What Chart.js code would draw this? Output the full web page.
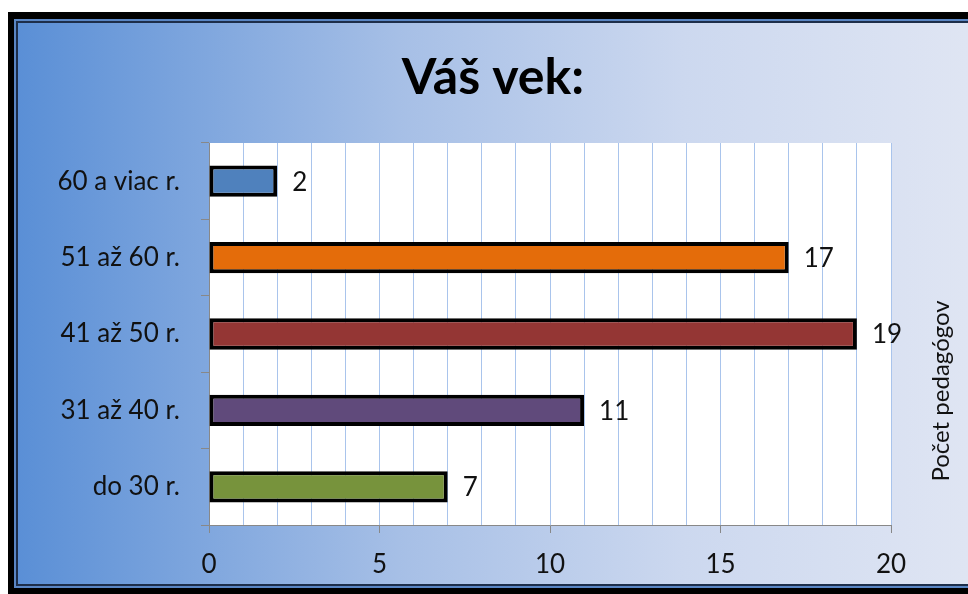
<!DOCTYPE html>
<html>
<head>
<meta charset="utf-8">
<script src="https://cdn.jsdelivr.net/npm/chart.js@4"></script>
<style>
    body { margin: 0; background: #fff; overflow: hidden; width: 968px; height: 594px; }
    .frame { position: absolute; left: 8px; top: 12px; width: 980px; height: 582px; background: #000; padding: 7px 6px 6px 6px; box-sizing: border-box; }
    .inner { border: 2px solid #5a86c4; }
    .inner2 { border: 2px solid #1d2e4a; width: 954px; height: 561px; }
    canvas { display: block; }
</style>
</head>
<body>
<div class="frame"><div class="inner"><div class="inner2">
    <canvas id="vekChart" width="950" height="561"></canvas>
</div></div></div>
<script>
const categories = ['60 a viac r.', '51 až 60 r.', '41 až 50 r.', '31 až 40 r.', 'do 30 r.'];
const counts = [2, 17, 19, 11, 7];
const barColors = ['#4f81bd', '#e46c0a', '#943634', '#604a7b', '#77933c'];
const xTicks = [0, 5, 10, 15, 20];

const fontFamily = 'Lato, "Open Sans", sans-serif';

// gradient background + white plot area
const backgroundPlugin = {
    id: 'bg',
    beforeDraw(chart) {
        const c = chart.ctx;
        const w = chart.width, h = chart.height;
        const g = c.createLinearGradient(0, 0, w, 0);
        g.addColorStop(0, '#5a8fd6');
        g.addColorStop(0.4, '#a6bfe6');
        g.addColorStop(0.7, '#ccd8ef');
        g.addColorStop(1, '#dfe5f3');
        c.save();
        c.fillStyle = g;
        c.fillRect(0, 0, w, h);
        const a = chart.chartArea;
        c.fillStyle = '#ffffff';
        c.fillRect(a.left, a.top, a.right - a.left, a.bottom - a.top);
        c.restore();
    }
};

// value labels next to the bars and the rotated axis title on the right
const labelPlugin = {
    id: 'labels',
    afterDatasetsDraw(chart) {
        const c = chart.ctx;
        c.save();
        c.font = '26px ' + fontFamily;
        c.fillStyle = '#111111';
        c.textAlign = 'left';
        c.textBaseline = 'middle';
        chart.getDatasetMeta(0).data.forEach(function (bar, i) {
            c.fillText(String(counts[i]), bar.x + 15, bar.y + 1);
        });
        c.font = '24px ' + fontFamily;
        c.translate(923, 368);
        c.rotate(-Math.PI / 2);
        c.textAlign = 'center';
        c.fillText('Počet pedagógov', 0, 0);
        c.restore();
    }
};

new Chart(document.getElementById('vekChart'), {
    type: 'bar',
    data: {
        labels: categories,
        datasets: [{
            data: counts,
            backgroundColor: barColors,
            borderColor: '#000000',
            borderWidth: 4,
            borderSkipped: false,
            categoryPercentage: 1,
            barPercentage: 0.41
        }]
    },
    options: {
        indexAxis: 'y',
        responsive: false,
        animation: false,
        layout: { padding: 0 },
        plugins: {
            legend: { display: false },
            tooltip: { enabled: false },
            title: {
                display: true,
                text: 'Váš vek:',
                color: '#000',
                font: { family: fontFamily, size: 50, weight: 'bold' },
                padding: { top: 25, bottom: 35 }
            }
        },
        scales: {
            x: {
                min: 0,
                max: 20,
                afterFit(scale) { scale.height = 59; },
                ticks: {
                    stepSize: 1,
                    autoSkip: false,
                    maxRotation: 0,
                    padding: 16,
                    color: '#111111',
                    font: { family: fontFamily, size: 26 },
                    callback: function (v) { return xTicks.includes(v) ? v : ''; }
                },
                grid: {
                    color: '#a9c4ec',
                    tickLength: 8,
                    tickColor: function (ctx) { return xTicks.includes(ctx.tick.value) ? '#888888' : 'rgba(0,0,0,0)'; }
                },
                border: { color: '#888888', width: 1 }
            },
            y: {
                afterFit(scale) { scale.width = 191; },
                ticks: {
                    padding: 21,
                    color: '#111111',
                    font: { family: fontFamily, size: 26 }
                },
                grid: {
                    offset: true,
                    drawOnChartArea: false,
                    tickLength: 8,
                    tickColor: '#888888'
                },
                border: { color: '#888888', width: 1 }
            },
            // empty strip on the right that holds the rotated title
            y2: {
                axis: 'y',
                type: 'category',
                position: 'right',
                afterFit(scale) { scale.width = 77; },
                ticks: { display: false },
                grid: { display: false },
                border: { display: false }
            }
        }
    },
    plugins: [backgroundPlugin, labelPlugin]
});
</script>
</body>
</html>
